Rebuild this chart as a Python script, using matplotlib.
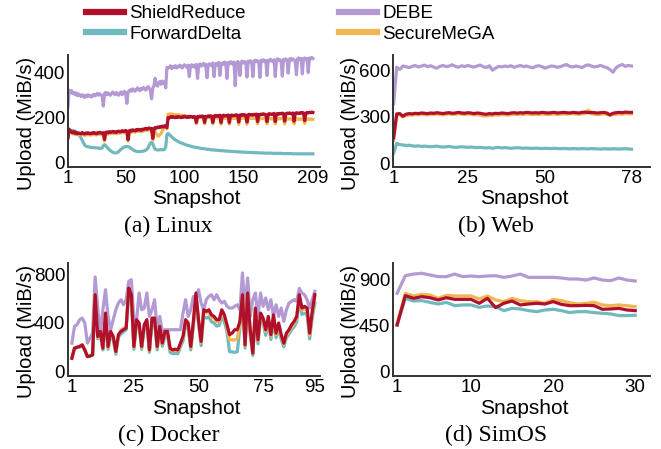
import numpy as np
import matplotlib
matplotlib.use('Agg')
import matplotlib.pyplot as plt
from matplotlib.lines import Line2D

plt.rcParams['font.family'] = ['Liberation Sans', 'DejaVu Sans']

# colores de cada esquema
colores = {'ShieldReduce': '#B0102C', 'ForwardDelta': '#71B8BF',
           'DEBE': '#B49AD4', 'SecureMeGA': '#F0B652'}
orden_dibujo = ['DEBE', 'ForwardDelta', 'SecureMeGA', 'ShieldReduce']
orden_leyenda = ['ShieldReduce', 'ForwardDelta', 'DEBE', 'SecureMeGA']

# ---- (a) Linux, 209 snapshots ----
linux_debe = [
    245, 320, 312, 318, 305, 310, 300, 308, 296, 304,
    298, 292, 300, 295, 288, 298, 292, 300, 294, 297,
    290, 298, 302, 295, 300, 306, 298, 304, 300, 296,
    250, 305, 310, 300, 308, 302, 298, 305, 312, 306,
    300, 310, 304, 298, 306, 312, 300, 308, 315, 305,
    262, 312, 318, 322, 315, 326, 320, 316, 324, 330,
    322, 318, 328, 324, 332, 326, 320, 330, 336, 328,
    318, 282, 330, 340, 372, 348, 338, 352, 358, 346,
    360, 350, 356, 330, 420, 418, 420, 428, 415, 424,
    420, 428, 418, 426, 422, 430, 424, 418, 428, 432,
    426, 420, 430, 380, 428, 432, 424, 430, 420, 434,
    372, 428, 436, 426, 432, 438, 428, 434, 375, 430,
    436, 432, 428, 440, 380, 434, 438, 430, 442, 385,
    436, 440, 434, 444, 438, 372, 442, 436, 446, 440,
    434, 444, 340, 438, 446, 440, 385, 444, 448, 440,
    446, 442, 378, 448, 444, 450, 442, 380, 448, 452,
    446, 450, 444, 376, 452, 448, 454, 446, 450, 385,
    452, 448, 456, 450, 446, 454, 380, 452, 458, 450,
    454, 448, 382, 456, 452, 458, 450, 395, 456, 460,
    452, 458, 454, 448, 388, 458, 462, 454, 460, 392,
    458, 462, 456, 460, 398, 462, 458, 464, 460]
linux_shield = [
    110, 148, 142, 136, 132, 138, 130, 134, 128, 132,
    130, 128, 134, 130, 127, 132, 129, 133, 130, 128,
    132, 130, 134, 131, 128, 133, 131, 135, 132, 130,
    133, 103, 134, 136, 132, 138, 134, 136, 139, 135,
    137, 134, 138, 140, 136, 139, 142, 138, 140, 143,
    139, 102, 141, 144, 140, 146, 143, 141, 147, 144,
    148, 145, 143, 149, 146, 150, 152, 148, 151, 154,
    150, 152, 108, 150, 156, 153, 158, 155, 160, 157,
    162, 158, 164, 160, 155, 200, 198, 203, 200, 204,
    201, 199, 203, 200, 204, 202, 199, 203, 201, 205,
    202, 200, 204, 201, 205, 203, 200, 204, 202, 178,
    204, 202, 206, 203, 207, 204, 178, 205, 203, 207,
    204, 208, 205, 178, 206, 209, 205, 208, 206, 210,
    178, 207, 210, 206, 209, 207, 211, 178, 208, 211,
    207, 210, 208, 212, 209, 180, 211, 209, 213, 210,
    212, 210, 180, 212, 214, 211, 213, 210, 214, 212,
    215, 182, 213, 211, 215, 213, 216, 214, 212, 182,
    214, 217, 215, 213, 216, 218, 182, 215, 217, 214,
    218, 216, 219, 217, 184, 216, 219, 217, 220, 218,
    216, 220, 184, 218, 221, 219, 217, 221, 219, 222,
    220, 186, 219, 222, 220, 223, 221, 224, 222]
linux_mega = [
    112, 150, 140, 132, 128, 133, 125, 129, 123, 127,
    125, 123, 128, 124, 121, 126, 123, 127, 124, 122,
    126, 124, 128, 125, 122, 127, 125, 129, 126, 124,
    127, 96, 128, 130, 126, 132, 128, 130, 133, 129,
    131, 128, 132, 134, 130, 133, 136, 132, 134, 137,
    133, 96, 135, 138, 134, 140, 137, 135, 141, 138,
    142, 139, 137, 143, 140, 144, 146, 142, 145, 148,
    144, 146, 100, 142, 138, 128, 120, 118, 124, 130,
    140, 150, 156, 160, 150, 215, 214, 216, 213, 215,
    212, 210, 213, 210, 212, 209, 207, 210, 208, 209,
    206, 204, 206, 203, 205, 202, 200, 203, 201, 172,
    202, 200, 203, 200, 202, 199, 172, 200, 198, 201,
    198, 201, 198, 172, 199, 201, 197, 200, 198, 200,
    170, 198, 200, 196, 199, 197, 200, 170, 197, 199,
    196, 198, 196, 199, 197, 170, 198, 196, 199, 197,
    198, 196, 170, 197, 199, 196, 198, 195, 198, 196,
    198, 172, 196, 194, 197, 195, 197, 195, 194, 172,
    195, 197, 195, 193, 196, 197, 172, 194, 196, 193,
    196, 194, 196, 194, 172, 193, 195, 193, 195, 193,
    192, 195, 172, 193, 195, 193, 191, 194, 192, 194,
    192, 174, 191, 194, 192, 194, 191, 193, 192]
linux_forward = [
    140, 145, 142, 140, 143, 138, 141, 135, 132, 128,
    120, 110, 100, 90, 80, 74, 72, 71, 70, 69,
    68, 68, 67, 67, 66, 66, 65, 64, 64, 66,
    76, 80, 76, 70, 64, 58, 54, 50, 47, 45,
    44, 44, 46, 50, 55, 60, 64, 68, 70, 72,
    72, 71, 70, 66, 62, 58, 55, 53, 51, 50,
    50, 50, 50, 51, 52, 54, 56, 60, 66, 78,
    88, 90, 85, 70, 60, 58, 57, 57, 58, 58,
    58, 58, 60, 70, 125, 130, 126, 120, 115, 110,
    106, 102, 99, 96, 93, 90, 88, 86, 84, 82,
    80, 78, 77, 75, 74, 72, 71, 70, 69, 68,
    67, 66, 65, 64, 63, 63, 62, 61, 60, 60,
    59, 58, 58, 57, 57, 56, 56, 55, 55, 54,
    54, 54, 53, 53, 52, 52, 52, 51, 51, 51,
    50, 50, 50, 49, 49, 49, 48, 48, 48, 47,
    47, 47, 47, 46, 46, 46, 46, 45, 45, 45,
    45, 45, 44, 44, 44, 44, 44, 43, 43, 43,
    43, 43, 43, 43, 42, 42, 42, 42, 42, 42,
    42, 42, 41, 41, 41, 41, 41, 41, 41, 41,
    41, 40, 40, 40, 40, 40, 40, 40, 40, 40,
    40, 40, 40, 40, 40, 40, 40, 40, 40]

# ---- (b) Web, 78 snapshots ----
web_debe = [
    385, 625, 610, 632, 628, 622, 630, 635, 626, 632,
    638, 628, 634, 625, 618, 630, 636, 628, 632, 640,
    630, 624, 634, 628, 636, 630, 625, 632, 638, 628,
    622, 634, 605, 618, 630, 626, 632, 628, 634, 624,
    630, 636, 628, 632, 626, 620, 630, 634, 628, 618,
    626, 632, 630, 624, 628, 636, 642, 630, 626, 632,
    628, 622, 634, 640, 632, 626, 630, 636, 628, 622,
    610, 592, 620, 634, 642, 630, 636, 632]
web_shield = [
    165, 320, 322, 305, 318, 322, 320, 324, 322, 326,
    324, 322, 326, 324, 328, 325, 322, 326, 328, 324,
    326, 330, 326, 324, 328, 326, 322, 326, 324, 320,
    318, 322, 320, 324, 322, 326, 324, 322, 326, 328,
    325, 328, 326, 330, 328, 326, 328, 326, 330, 328,
    326, 328, 330, 326, 328, 330, 328, 326, 330, 328,
    326, 330, 332, 328, 330, 328, 326, 328, 330, 326,
    314, 324, 328, 330, 328, 332, 330, 330]
web_mega = [
    148, 312, 315, 300, 310, 314, 312, 316, 314, 318,
    316, 314, 318, 316, 320, 317, 314, 318, 320, 316,
    318, 322, 318, 316, 320, 318, 314, 316, 312, 308,
    306, 310, 310, 314, 312, 316, 314, 312, 316, 318,
    316, 318, 316, 320, 318, 316, 318, 316, 320, 318,
    316, 318, 320, 316, 318, 320, 318, 322, 320, 320,
    318, 320, 322, 345, 320, 318, 316, 318, 320, 318,
    310, 316, 318, 320, 318, 322, 320, 320]
web_forward = [
    65, 128, 120, 118, 114, 116, 112, 110, 112, 108,
    110, 108, 106, 108, 110, 106, 104, 106, 108, 104,
    102, 104, 106, 104, 102, 104, 102, 100, 102, 100,
    98, 100, 96, 100, 102, 98, 100, 98, 96, 98,
    100, 98, 96, 98, 96, 95, 97, 96, 94, 96,
    95, 94, 96, 94, 93, 95, 94, 92, 94, 93,
    92, 94, 93, 92, 94, 93, 92, 91, 93, 92,
    91, 93, 92, 91, 92, 93, 92, 90]

# ---- (c) Docker, 95 snapshots ----
docker_debe = [
    235, 372, 386, 427, 440, 400, 235, 276, 317, 776,
    522, 317, 508, 672, 454, 345, 427, 508, 563, 590,
    549, 590, 740, 754, 427, 413, 645, 508, 522, 645,
    454, 508, 590, 345, 454, 331, 345, 345, 345, 345,
    345, 345, 345, 481, 590, 454, 508, 617, 590, 672,
    563, 508, 590, 617, 631, 590, 631, 590, 563, 577,
    536, 522, 522, 536, 549, 508, 809, 508, 768, 454,
    590, 645, 454, 645, 536, 604, 508, 590, 454, 549,
    454, 522, 413, 508, 563, 577, 590, 577, 683, 645,
    631, 590, 522, 590, 658]
docker_shield = [
    112, 194, 202, 208, 221, 180, 126, 131, 139, 631,
    290, 331, 194, 481, 208, 331, 290, 167, 304, 331,
    345, 358, 686, 631, 208, 427, 400, 208, 386, 427,
    180, 440, 440, 208, 372, 235, 331, 331, 194, 180,
    186, 180, 235, 290, 427, 400, 208, 413, 645, 427,
    249, 508, 495, 508, 467, 454, 427, 427, 508, 467,
    386, 304, 317, 345, 345, 413, 631, 221, 645, 345,
    153, 522, 263, 481, 440, 345, 454, 304, 467, 317,
    400, 304, 235, 317, 345, 386, 413, 454, 631, 522,
    536, 522, 317, 495, 631]
docker_mega = [
    118, 196, 204, 210, 222, 184, 128, 134, 142, 620,
    282, 322, 190, 470, 200, 320, 282, 160, 300, 345,
    355, 368, 676, 625, 200, 418, 392, 200, 375, 418,
    175, 430, 430, 200, 360, 228, 320, 322, 186, 172,
    178, 174, 228, 280, 415, 390, 200, 400, 635, 418,
    240, 495, 482, 490, 450, 438, 410, 412, 490, 448,
    365, 262, 262, 262, 270, 395, 615, 212, 632, 330,
    148, 505, 252, 468, 425, 330, 440, 290, 452, 305,
    385, 292, 225, 300, 330, 370, 398, 440, 615, 505,
    520, 505, 300, 480, 615]
docker_forward = [
    112, 190, 198, 204, 216, 176, 124, 128, 136, 600,
    270, 300, 180, 450, 185, 300, 265, 145, 285, 310,
    330, 345, 660, 605, 185, 395, 375, 185, 350, 395,
    160, 405, 400, 180, 335, 210, 290, 295, 160, 150,
    150, 150, 205, 255, 385, 360, 180, 370, 610, 390,
    215, 455, 440, 450, 410, 400, 375, 380, 455, 410,
    330, 165, 165, 160, 165, 360, 590, 195, 610, 300,
    135, 475, 230, 440, 395, 300, 410, 265, 425, 280,
    355, 265, 205, 280, 310, 345, 370, 410, 590, 470,
    480, 470, 270, 445, 560]

# ---- (d) SimOS, 30 snapshots ----
simos_debe = [
    762, 932, 948, 955, 939, 923, 923, 948, 923, 929,
    923, 929, 932, 916, 929, 948, 916, 916, 916, 916,
    910, 900, 900, 890, 910, 890, 884, 910, 890, 881]
simos_shield = [
    455, 739, 713, 729, 719, 697, 719, 703, 703, 703,
    665, 713, 623, 665, 687, 649, 658, 665, 658, 681,
    655, 642, 642, 645, 642, 607, 610, 616, 600, 594]
simos_mega = [
    471, 761, 736, 752, 745, 713, 742, 736, 736, 736,
    707, 736, 697, 681, 713, 690, 681, 681, 665, 703,
    691, 671, 658, 665, 674, 649, 642, 649, 642, 632]
simos_forward = [
    455, 713, 687, 691, 674, 658, 674, 642, 649, 649,
    626, 639, 632, 594, 616, 610, 594, 584, 600, 607,
    594, 575, 584, 584, 575, 568, 562, 546, 546, 549]

paneles = [
    {'pos': (68, 55, 320, 167), 'titulo': '(a) Linux',
     'series': {'DEBE': linux_debe, 'ShieldReduce': linux_shield,
                'SecureMeGA': linux_mega, 'ForwardDelta': linux_forward},
     'xticks': [1, 50, 100, 150, 209], 'yticks': [0, 200, 400],
     'xlim': (1, 215), 'ylim': (-18, 475)},
    {'pos': (393, 55, 650, 167), 'titulo': '(b) Web',
     'series': {'DEBE': web_debe, 'ShieldReduce': web_shield,
                'SecureMeGA': web_mega, 'ForwardDelta': web_forward},
     'xticks': [1, 25, 50, 78], 'yticks': [0, 300, 600],
     'xlim': (0.8, 84), 'ylim': (-26, 704)},
    {'pos': (68, 263, 320, 376), 'titulo': '(c) Docker',
     'series': {'DEBE': docker_debe, 'ShieldReduce': docker_shield,
                'SecureMeGA': docker_mega, 'ForwardDelta': docker_forward},
     'xticks': [1, 25, 50, 75, 95], 'yticks': [0, 400, 800],
     'xlim': (-0.5, 97), 'ylim': (-33, 890)},
    {'pos': (393, 263, 650, 376), 'titulo': '(d) SimOS',
     'series': {'DEBE': simos_debe, 'ShieldReduce': simos_shield,
                'SecureMeGA': simos_mega, 'ForwardDelta': simos_forward},
     'xticks': [1, 10, 20, 30], 'yticks': [0, 450, 900],
     'xlim': (0.5, 31.8), 'ylim': (-39, 1055)},
]

W, H = 661, 449
fig = plt.figure(figsize=(W / 100, H / 100), dpi=100)

for p in paneles:
    x0, y0, x1, y1 = p['pos']
    ax = fig.add_axes([x0 / W, 1 - y1 / H, (x1 - x0) / W, (y1 - y0) / H])
    for nombre in orden_dibujo:
        datos = p['series'][nombre]
        x = np.arange(1, len(datos) + 1)
        ax.plot(x, datos, color=colores[nombre], lw=2.3, solid_joinstyle='round')
    ax.set_xlim(*p['xlim'])
    ax.set_ylim(*p['ylim'])
    ax.set_xticks(p['xticks'])
    ax.set_yticks(p['yticks'])
    ax.tick_params(length=0, labelsize=13.5, pad=2)
    ax.spines['right'].set_visible(False)
    ax.spines['top'].set_visible(False)
    for s in ['left', 'bottom']:
        ax.spines[s].set_color('#333333')
        ax.spines[s].set_linewidth(1.4)
    alto = y1 - y0
    ancho = x1 - x0
    ax.set_xlabel('Snapshot', fontsize=15, va='center')
    ax.xaxis.set_label_coords(0.51, -32 / alto)
    ax.set_ylabel('Upload (MiB/s)', fontsize=14.5, va='center', ha='center')
    ax.yaxis.set_label_coords(-42 / ancho, 0.39)
    fig.text((x0 + 0.4 * ancho) / W, 1 - (y1 + 59) / H, p['titulo'],
             family='Liberation Serif', fontsize=17, ha='center', va='center')

manijas = [Line2D([], [], color=colores[n], lw=4.5) for n in orden_leyenda]
fig.legend(manijas, orden_leyenda, loc='upper left', bbox_to_anchor=(86 / W, 1 - 5 / H),
           ncol=2, frameon=False, borderpad=0, borderaxespad=0,
           handlelength=2.0, handletextpad=0.3, columnspacing=5.0, labelspacing=0.2,
           prop={'family': ['Liberation Sans Narrow', 'Liberation Sans'], 'size': 13.5})

fig.savefig('out.png', dpi=100)
